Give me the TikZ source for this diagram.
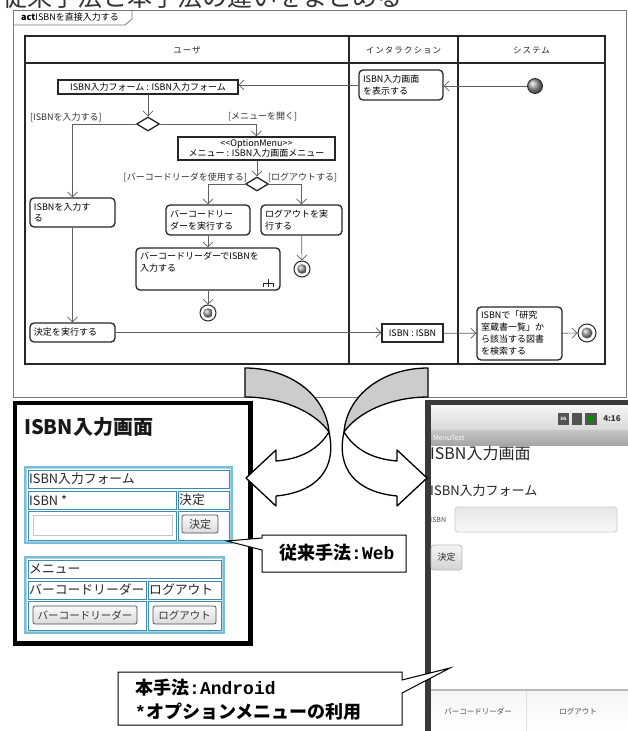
\documentclass[tikz,border=0pt]{standalone}
\usepackage{fontspec}
\setmainfont{Noto Sans CJK JP}
\newfontfamily\mono{Liberation Mono}
\usetikzlibrary{arrows.meta,shapes.geometric,calc}
\definecolor{tealc}{RGB}{60,140,175}
\definecolor{blueA}{RGB}{120,190,215}
\definecolor{blueB}{RGB}{170,215,232}
\definecolor{flowc}{RGB}{95,95,95}
\definecolor{framec}{RGB}{120,120,120}
\definecolor{arrowgray}{RGB}{204,204,204}
\newcommand\mycell[6]{%
  \draw[cellline] (#2,#3) rectangle (#4,#5);
  \node[celltext] (#1) at ({#2+1},{(#3+#5)/2}) {#6};}
\newcommand\mybutton[7]{%
  \draw[btnline] (#2,#3) rectangle (#4,#5);
  \node[btntext,font=\fontsize{#7}{#7}\selectfont] (#1) at ({(#2+#4)/2},{(#3+#5)/2}) {#6};}
\begin{document}
\begin{tikzpicture}[x=1pt,y=-1pt,
  lane/.style={draw=black!85, line width=1.6pt},
  actn/.style={draw=black!85, line width=1.3pt, rounded corners=4pt, fill=white, font=\fontsize{9}{11.5}\selectfont, align=left, inner sep=3pt},
  objn/.style={draw=black!85, line width=1.3pt, fill=white, font=\fontsize{9}{10}\selectfont, inner sep=2pt},
  flow/.style={draw=flowc, line width=0.7pt, -{Straight Barb[length=5pt,width=10pt,line width=0.7pt]}},
  guard/.style={font=\fontsize{9}{10}\selectfont, inner sep=0pt, text=black!80},
  dec/.style={diamond, draw=black!85, line width=1.3pt, fill=white, minimum width=23pt, minimum height=14pt, inner sep=0pt},
  lanehead/.style={font=\fontsize{8.5}{10}\selectfont\addfontfeatures{LetterSpace=12}, text=black!85},
  ringn/.style={circle, draw=black!85, line width=1pt, fill=white, minimum size=#1, inner sep=0pt},
  bigarrow/.style={draw=black, line width=1.3pt, line join=round},
  cellline/.style={draw=tealc, line width=0.8pt},
  celltext/.style={anchor=west, inner sep=0pt, font=\fontsize{12.8}{13}\selectfont, text=black!85},
  btnline/.style={draw=gray!60!black, line width=0.7pt, rounded corners=2pt, top color=gray!5, bottom color=gray!28},
  btntext/.style={inner sep=0pt, text=black!80},
  callout/.style={draw=black, line width=1pt, fill=white, line join=miter},
  calltext/.style={inner sep=0pt, font=\bfseries\fontsize{18}{24}\selectfont, align=left, text=black}
]
\useasboundingbox (0,0) rectangle (628,731);
\fill[white] (0,0) rectangle (628,731);

% heading, cut off at the top edge as in the reference
\begin{scope}
  \clip (0,0) rectangle (628,9.5);
  \node[anchor=base west, inner sep=0pt, font=\fontsize{25}{25}\selectfont, text=black!80] (heading) at (2,6.5) {従来手法と本手法の違いをまとめる};
\end{scope}

% ---------------- UML activity frame ----------------
\draw[framec, line width=0.8pt] (13,10) rectangle (626,397);
\draw[framec, line width=0.8pt] (13,25) -- (125,25) -- (132,19) -- (132,10);
\node[anchor=west, inner sep=0pt, font=\fontsize{9}{9}\selectfont] (acttab) at (21,17.5) {\textbf{act}ISBNを直接入力する};

% swimlanes
\draw[lane] (25,36) rectangle (605,364);
\draw[lane] (25,63) -- (605,63);
\draw[lane] (349,36) -- (349,364);
\draw[lane] (458,36) -- (458,364);
\node[lanehead] (h1) at (187,50) {ユーザ};
\node[lanehead] (h2) at (403.5,50) {インタラクション};
\node[lanehead] (h3) at (531.5,50) {システム};

% nodes
\node[objn, minimum width=180pt, minimum height=14pt] (form) at (148,87) {ISBN入力フォーム : ISBN入力フォーム};
\node[actn, minimum width=84pt, minimum height=30pt, text width=76pt] (show) at (401,85) {ISBN入力画面\\を表示する};
\node[circle, minimum size=15pt, inner sep=0pt, draw=black!85, line width=0.8pt, ball color=gray!75] (init) at (535,86) {};
\node[dec] (d1) at (148,124) {};
\node[guard, anchor=west] (g1) at (30,117) {[ISBNを入力する]};
\node[guard, anchor=west] (g2) at (228,117) {[メニューを開く]};
\node[objn, minimum width=157pt, minimum height=23pt, align=center, inner sep=1pt, font=\fontsize{9}{9.5}\selectfont] (menu) at (256.5,148.5) {<{}<OptionMenu>{}>\\メニュー : ISBN入力画面メニュー};
\node[dec] (d2) at (257,184) {};
\node[guard, anchor=east] (g3) at (247,177) {[バーコードリーダを使用する]};
\node[guard, anchor=west] (g4) at (268,177) {[ログアウトする]};
\node[actn, minimum width=85pt, minimum height=29pt, text width=77pt] (isbnin) at (72.5,212.5) {ISBNを入力す\\る};
\node[actn, minimum width=84pt, minimum height=30pt, text width=76pt] (bc) at (208,220) {バーコードリー\\ダーを実行する};
\node[actn, minimum width=81pt, minimum height=30pt, text width=73pt] (lo) at (301.5,220) {ログアウトを実\\行する};
\node[actn, minimum width=144pt, minimum height=42pt, text width=136pt] (call) at (208,269) {バーコードリーダーでISBNを\\入力する\\[3pt]\mbox{}};
\draw[black!85, line width=1pt] (268,279) -- (268,287) (263,287) -- (263,283) -- (273,283) -- (273,287);
\node[ringn=16pt] (f1) at (302,269) {};
\shade[ball color=gray!75] (f1.center) circle[radius=4.8pt];
\node[ringn=16pt] (f2) at (208,313) {};
\shade[ball color=gray!75] (f2.center) circle[radius=4.8pt];
\node[actn, minimum width=85pt, minimum height=19pt, text width=77pt] (kettei) at (72.5,332.5) {決定を実行する};
\node[objn, minimum width=61pt, minimum height=18pt] (isbnobj) at (412.5,333) {ISBN : ISBN};
\node[actn, minimum width=85pt, minimum height=53pt, text width=77pt, font=\fontsize{9}{12}\selectfont] (search) at (519.5,333.5) {ISBNで「研究\\室蔵書一覧」か\\ら該当する図書\\を検索する};
\node[ringn=18pt] (f3) at (587,333) {};
\shade[ball color=gray!75] (f3.center) circle[radius=5.5pt];

% flows
\draw[flow] (init.west) -- (init.west -| show.east);
\draw[flow] (show.west) -- (show.west -| form.east);
\draw[flow] (form) -- (d1);
\draw[flow] (d1.west) -| (isbnin.north);
\draw[flow] (d1.east) -| (menu.north);
\draw[flow] (menu.south -| d2.north) -- (d2.north);
\draw[flow] (d2.west) -| (bc.north);
\draw[flow] (d2.east) -| (lo.north);
\draw[flow] (bc) -- (call);
\draw[flow] (lo) -- (f1);
\draw[flow] (call) -- (f2);
\draw[flow] (isbnin) -- (kettei);
\draw[flow] (kettei.east) -- (kettei.east -| isbnobj.west);
\draw[flow] (isbnobj) -- (search);
\draw[flow] (search) -- (f3);

% ---------------- Web screen ----------------
\fill[black] (13,401) rectangle (253,646);
\fill[white] (17,405) rectangle (248,641);
\node[anchor=west, inner sep=0pt, font=\bfseries\fontsize{20}{20}\selectfont, text=black!90] (wtitle) at (24,427) {ISBN入力画面};
\draw[blueA, line width=1.2pt] (25,467) rectangle (232,543);
\draw[blueB, line width=0.8pt] (26.5,468.5) rectangle (230.5,541.5);
\mycell{wc1}{28}{470}{229}{488}{ISBN入力フォーム}
\mycell{wc2}{28}{491}{176}{509}{ISBN *}
\mycell{wc3}{178}{491}{229}{509}{決定}
\draw[cellline] (28,511) rectangle (176,540);
\draw[draw=gray!45, line width=1pt, fill=white] (33,515) rectangle (172,535);
\draw[cellline] (178,511) rectangle (229,540);
\mybutton{wb1}{182}{515}{218}{533}{決定}{11}
\draw[blueA, line width=1.2pt] (25,557) rectangle (224,633);
\draw[blueB, line width=0.8pt] (26.5,558.5) rectangle (222.5,631.5);
\mycell{wc4}{28}{560}{221}{578}{メニュー}
\mycell{wc5}{28}{581}{146}{599}{バーコードリーダー}
\mycell{wc6}{148}{581}{221}{599}{ログアウト}
\draw[cellline] (28,601) rectangle (146,630);
\draw[cellline] (148,601) rectangle (221,630);
\mybutton{wb2}{33}{606}{137}{624}{バーコードリーダー}{10.5}
\mybutton{wb3}{153}{606}{216}{624}{ログアウト}{10.5}

% ---------------- Android screen ----------------
\fill[gray!45!black] (425,400) rectangle (628,731);
\fill[white] (431,405) rectangle (628,731);
\shade[top color=gray!8, bottom color=gray!30] (431,405) rectangle (628,430);
\fill[gray!65!black] (558,413) rectangle (569,425);
\node[inner sep=0pt, font=\bfseries\fontsize{4.5}{5}\selectfont, text=white] (g3g) at (563.5,419) {3G};
\fill[gray!65!black] (572,413) rectangle (582,425);
\fill[gray!65!black] (585,413) rectangle (597,425);
\fill[green!55!black] (588,416) rectangle (594,422);
\node[inner sep=0pt, font=\bfseries\fontsize{8}{8}\selectfont, text=black!80] (clock) at (612,419) {4:16};
\shade[top color=gray!45, bottom color=gray!70] (431,430) rectangle (628,445);
\node[anchor=west, inner sep=0pt, font=\fontsize{7}{7}\selectfont, text=white] (mtitle) at (433,437.5) {MenuTest};
\node[anchor=west, inner sep=0pt, font=\fontsize{16}{16}\selectfont, text=black!85] (atitle) at (430,453) {ISBN入力画面};
\node[anchor=west, inner sep=0pt, font=\fontsize{13}{13}\selectfont, text=black!85] (aform) at (430,491) {ISBN入力フォーム};
\node[anchor=west, inner sep=0pt, font=\fontsize{7}{7}\selectfont, text=black!70] (alabel) at (430,520) {ISBN};
\draw[draw=gray!40, line width=0.8pt, rounded corners=3pt, top color=gray!18, bottom color=gray!6] (455,507) rectangle (617,532);
\draw[draw=gray!55, line width=0.8pt, rounded corners=3pt, top color=gray!8, bottom color=gray!35] (431,545) rectangle (462,570);
\node[inner sep=0pt, font=\fontsize{9}{9}\selectfont, text=black!85] (abtn) at (446.5,557.5) {決定};
\shade[top color=gray!8, bottom color=white] (431,690) rectangle (628,731);
\draw[gray!55, line width=1.5pt] (431,690) -- (628,690);
\draw[gray!25, line width=0.8pt] (526,691) -- (526,731);
\node[inner sep=0pt, font=\fontsize{7.5}{8}\selectfont, text=black!70] (am1) at (478,712) {バーコードリーダー};
\node[inner sep=0pt, font=\fontsize{7.5}{8}\selectfont, text=black!70] (am2) at (578,712) {ログアウト};

% ---------------- big curved arrows ----------------
\begin{scope}
  \draw[bigarrow, fill=arrowgray] (245,368) .. controls (290,368) and (326,395) .. (329,432) .. controls (315,412) and (282,397) .. (245,397) -- cycle;
  \draw[bigarrow, fill=white] (329,432) .. controls (318,450) and (300,459) .. (276,461) -- (276,450) -- (246,478) -- (276,506) -- (276,496) .. controls (318,492) and (337,468) .. (329,432) -- cycle;
\end{scope}
\begin{scope}[xshift=673pt, xscale=-1]
  \draw[bigarrow, fill=arrowgray] (245,368) .. controls (290,368) and (326,395) .. (329,432) .. controls (315,412) and (282,397) .. (245,397) -- cycle;
  \draw[bigarrow, fill=white] (329,432) .. controls (318,450) and (300,459) .. (276,461) -- (276,450) -- (246,478) -- (276,506) -- (276,496) .. controls (318,492) and (337,468) .. (329,432) -- cycle;
\end{scope}

% ---------------- callouts ----------------
\draw[callout] (262,535) -- (406,535) -- (406,572) -- (262,572) -- (262,550) -- (227,541) -- (262,538) -- cycle;
\node[calltext, anchor=west] (webtxt) at (279,553) {従来手法{\mono :Web}};
\draw[callout] (118,672) -- (402,672) -- (402,680) -- (450,668) -- (402,693) -- (402,725) -- (118,725) -- cycle;
\node[calltext, anchor=west] (andtxt) at (135,700) {本手法{\mono :Android}\\{\mono *}オプションメニューの利用};
\end{tikzpicture}
\end{document}
